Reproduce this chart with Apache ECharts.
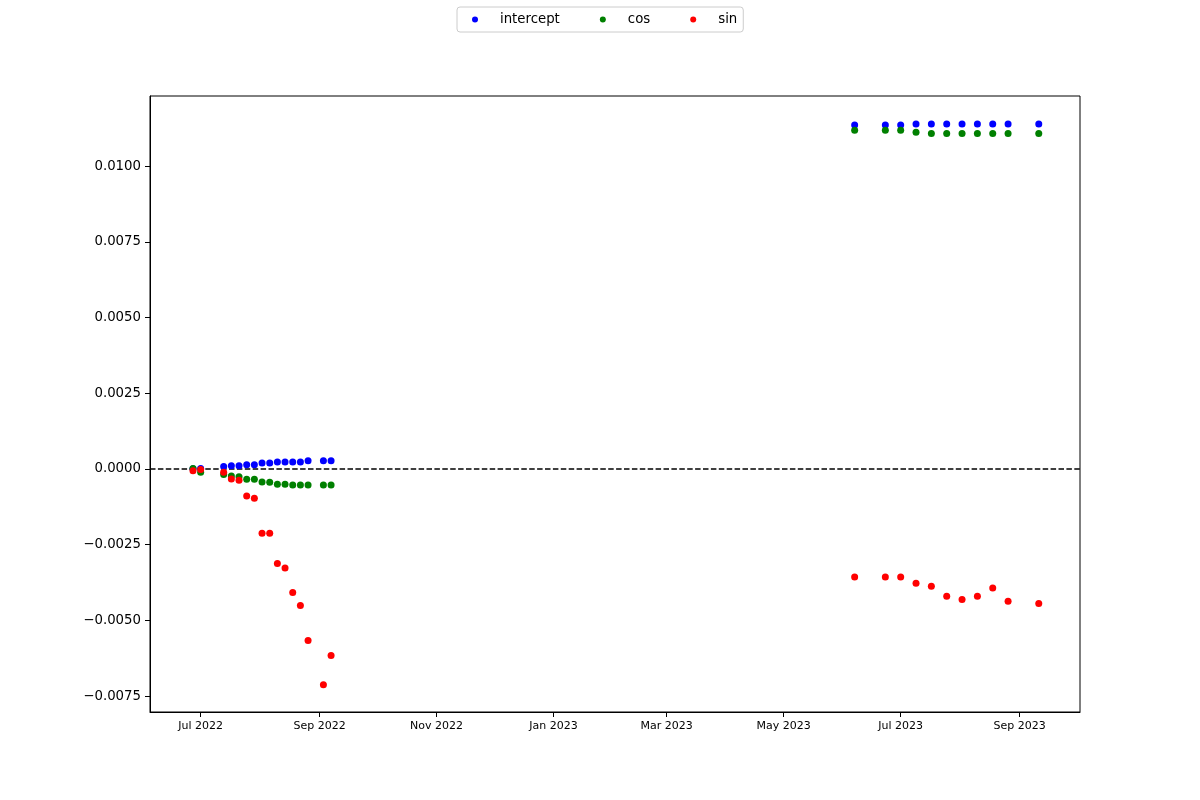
<!DOCTYPE html>
<html>
<head>
<meta charset="utf-8">
<script src="https://cdn.jsdelivr.net/npm/echarts@6/dist/echarts.min.js"></script>
<style>html,body{margin:0;padding:0;background:#fff}#c{width:1200px;height:800px}</style>
</head>
<body>
<div id="c"></div>
<script>
const dates = ['2022-06-27','2022-07-01','2022-07-13','2022-07-17','2022-07-21','2022-07-25','2022-07-29','2022-08-02','2022-08-06','2022-08-10','2022-08-14','2022-08-18','2022-08-22','2022-08-26','2022-09-03','2022-09-07',
  '2023-06-07','2023-06-23','2023-07-01','2023-07-09','2023-07-17','2023-07-25','2023-08-02','2023-08-10','2023-08-18','2023-08-26','2023-09-11'];
const intercept = [0.00001,0.00002,0.00008,0.00011,0.00011,0.00014,0.00014,0.00020,0.00020,0.00023,0.00023,0.00023,0.00023,0.00027,0.00027,0.00027,
  0.01136,0.01136,0.01136,0.01139,0.01139,0.01139,0.01139,0.01139,0.01139,0.01139,0.01139];
const cosv = [0.00002,-0.00011,-0.00018,-0.00023,-0.00026,-0.00034,-0.00034,-0.00043,-0.00044,-0.00050,-0.00050,-0.00053,-0.00053,-0.00053,-0.00053,-0.00053,
  0.01118,0.01118,0.01118,0.01112,0.01108,0.01108,0.01108,0.01108,0.01108,0.01108,0.01108];
const sinv = [-0.00006,-0.00002,-0.00011,-0.00033,-0.00037,-0.00089,-0.00097,-0.00212,-0.00212,-0.00312,-0.00327,-0.00408,-0.00451,-0.00566,-0.00712,-0.00616,
  -0.00357,-0.00357,-0.00357,-0.00377,-0.00387,-0.00420,-0.00431,-0.00420,-0.00393,-0.00437,-0.00444];
const xTickDates = ['2022-07-01','2022-09-01','2022-11-01','2023-01-01','2023-03-01','2023-05-01','2023-07-01','2023-09-01'];
const xTickLabels = ['Jul 2022','Sep 2022','Nov 2022','Jan 2023','Mar 2023','May 2023','Jul 2023','Sep 2023'];
const yTicks = [-0.0075,-0.0050,-0.0025,0.0000,0.0025,0.0050,0.0075,0.0100];
const seriesNames = ['intercept','cos','sin'];
const seriesColors = ['#0000ff','#008000','#ff0000'];

function ts(s, h) {
  const p = s.split('-').map(Number);
  return Date.UTC(p[0], p[1]-1, p[2], h || 0, 0, 0);
}
const xTickTs = xTickDates.map(d => ts(d));
const xMin = ts('2022-06-04', 14);
const xMax = ts('2023-10-02', 12);
const FONT = 'DejaVu Sans';

function pairs(vals) { return dates.map((d, i) => [ts(d), vals[i]]); }
const allVals = [intercept, cosv, sinv];

const chart = echarts.init(document.getElementById('c'), null, {renderer: 'canvas'});
const series = seriesNames.map((n, i) => ({
  name: n,
  type: 'scatter',
  symbol: 'circle',
  symbolSize: 7,
  itemStyle: {color: seriesColors[i], opacity: 1},
  data: pairs(allVals[i]),
  z: 3 + i
}));
series[0].markLine = {
  silent: true,
  symbol: ['none', 'none'],
  label: {show: false},
  lineStyle: {color: '#000', type: [5.5, 2.4], width: 1.5},
  data: [{yAxis: 0}],
  z: 1
};

chart.setOption({
  animation: false,
  backgroundColor: '#fff',
  textStyle: {fontFamily: FONT},
  legend: {
    top: 7,
    left: 457,
    data: seriesNames,
    icon: 'circle',
    itemWidth: 28,
    itemHeight: 6,
    itemGap: 40,
    padding: [6, 6, 6, 15],
    borderColor: '#cccccc',
    borderWidth: 1,
    borderRadius: 3,
    textStyle: {fontFamily: FONT, fontSize: 13.3, color: '#000', padding: [0, 0, 0, 6]}
  },
  grid: {left: 150, right: 120, top: 96, bottom: 88, show: true, borderColor: '#000', borderWidth: 1, backgroundColor: 'transparent'},
  xAxis: {
    type: 'value',
    min: xMin,
    max: xMax,
    splitLine: {show: false},
    axisLine: {show: true, onZero: false, lineStyle: {color: '#000', width: 1}},
    axisTick: {show: true, length: 5, customValues: xTickTs, lineStyle: {color: '#000', width: 1}},
    axisLabel: {
      customValues: xTickTs,
      fontFamily: FONT, fontSize: 11, color: '#000', margin: 9,
      formatter: function (v) {
        let best = 0, bd = Infinity;
        xTickTs.forEach((t, i) => { const d = Math.abs(t - v); if (d < bd) { bd = d; best = i; } });
        return xTickLabels[best];
      }
    }
  },
  yAxis: {
    type: 'value',
    min: -0.008023,
    max: 0.012314,
    splitLine: {show: false},
    axisLine: {show: true, onZero: false, lineStyle: {color: '#000', width: 1}},
    axisTick: {show: true, length: 5, customValues: yTicks, lineStyle: {color: '#000', width: 1}},
    axisLabel: {
      customValues: yTicks,
      fontFamily: FONT, fontSize: 13.3, color: '#000', margin: 9,
      formatter: function (v) {
        const s = Math.abs(v).toFixed(4);
        return (v < -1e-12 ? '\u2212' : '') + s;
      }
    }
  },
  series: series
});
</script>
</body>
</html>
